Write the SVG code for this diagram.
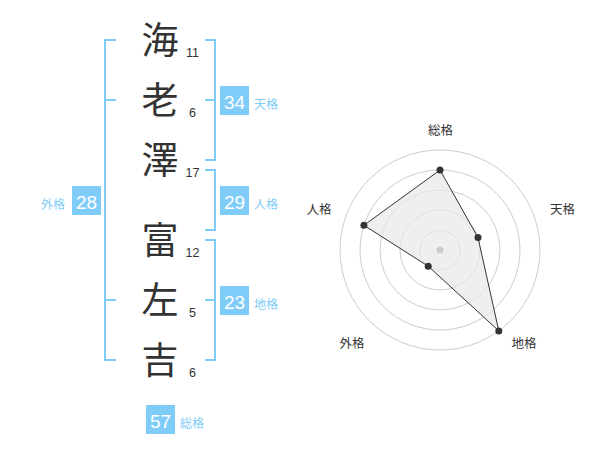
<svg xmlns="http://www.w3.org/2000/svg" width="600" height="470" viewBox="0 0 600 470">
<style>
.kanji{font-family:"Noto Sans CJK JP","Noto Sans CJK SC",sans-serif;font-size:37px;fill:#333;text-anchor:middle}
.stroke{font-family:"Liberation Sans",Arial,sans-serif;font-size:12.5px;fill:#333;text-anchor:middle}
.br{fill:none;stroke:#80ccf8;stroke-width:2}
.box{fill:#80ccf8}
.num{font-family:"Liberation Sans",Arial,sans-serif;font-size:19px;fill:#fff;text-anchor:middle}
.lbl{font-family:"Noto Sans CJK JP","Noto Sans CJK SC",sans-serif;font-size:12px;fill:#80ccf8}
.ring{fill:none;stroke:#cccccc;stroke-width:1}
.axis{font-family:"Noto Sans CJK JP","Noto Sans CJK SC",sans-serif;font-size:12.5px;fill:#333;text-anchor:middle}
.dot{fill:#333}
</style>
<rect width="600" height="470" fill="#fff"/>
<g id="name">
<text class="kanji" x="160" y="54">海</text>
<text class="kanji" x="160" y="114">老</text>
<text class="kanji" x="160" y="174">澤</text>
<text class="kanji" x="160" y="254">富</text>
<text class="kanji" x="160" y="314">左</text>
<text class="kanji" x="160" y="374">吉</text>
<text class="stroke" x="192.5" y="57.3">11</text>
<text class="stroke" x="192.5" y="117.3">6</text>
<text class="stroke" x="192.5" y="177.3">17</text>
<text class="stroke" x="192.5" y="257.3">12</text>
<text class="stroke" x="192.5" y="317.3">5</text>
<text class="stroke" x="192.5" y="377.3">6</text>
</g>
<g id="connectors">
<path class="br" d="M116,40H105V360H116M105,100H116M105,300H116"/>
<path class="br" d="M205,40H215V160H205M205,100H215"/>
<path class="br" d="M205,170H215V230H205"/>
<path class="br" d="M205,240H215V360H205M205,300H215"/>
</g>
<g id="tenkaku">
<rect class="box" x="220" y="86" width="29" height="29"/>
<text class="num" x="234.5" y="109">34</text>
<text class="lbl" x="254" y="109">天格</text>
</g>
<g id="jinkaku">
<rect class="box" x="220" y="186" width="29" height="29"/>
<text class="num" x="234.5" y="209">29</text>
<text class="lbl" x="254" y="209">人格</text>
</g>
<g id="chikaku">
<rect class="box" x="220" y="286" width="29" height="29"/>
<text class="num" x="234.5" y="309">23</text>
<text class="lbl" x="254" y="309">地格</text>
</g>
<g id="gaikaku">
<rect class="box" x="72" y="186" width="29" height="29"/>
<text class="num" x="86.5" y="209">28</text>
<text class="lbl" x="41" y="209">外格</text>
</g>
<g id="soukaku">
<rect class="box" x="146" y="405" width="29" height="29"/>
<text class="num" x="160.5" y="428">57</text>
<text class="lbl" x="180" y="428">総格</text>
</g>
<g id="radar">
<circle class="ring" cx="440" cy="250" r="20"/>
<circle class="ring" cx="440" cy="250" r="40"/>
<circle class="ring" cx="440" cy="250" r="60"/>
<circle class="ring" cx="440" cy="250" r="80"/>
<circle class="ring" cx="440" cy="250" r="100"/>
<polygon points="440,170 478,237.6 498.8,330.9 428.2,266.2 363.9,225.3" fill="#e8e8e8" fill-opacity="0.7" stroke="#333" stroke-width="1"/>
<circle cx="440" cy="250" r="3.5" fill="#cccccc"/>
<circle class="dot" cx="440" cy="170" r="3.5"/>
<circle class="dot" cx="478" cy="237.6" r="3.5"/>
<circle class="dot" cx="498.8" cy="330.9" r="3.5"/>
<circle class="dot" cx="428.2" cy="266.2" r="3.5"/>
<circle class="dot" cx="363.9" cy="225.3" r="3.5"/>
<text class="axis" x="440.5" y="135">総格</text>
<text class="axis" x="562.5" y="214">天格</text>
<text class="axis" x="524" y="347.5">地格</text>
<text class="axis" x="352" y="347.5">外格</text>
<text class="axis" x="319" y="214">人格</text>
</g>
</svg>
